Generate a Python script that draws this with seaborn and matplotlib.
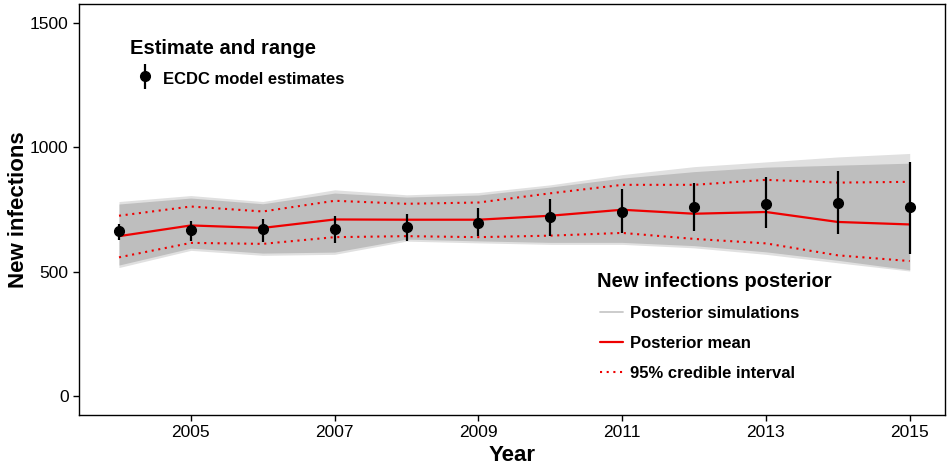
import numpy as np
import pandas as pd
import matplotlib
matplotlib.use("Agg")
import matplotlib.pyplot as plt
import seaborn as sns
from matplotlib.lines import Line2D
from matplotlib.legend_handler import HandlerErrorbar

# ---- data -------------------------------------------------------------
years = [2004, 2005, 2006, 2007, 2008, 2009, 2010, 2011, 2012, 2013, 2014, 2015]

# ECDC model estimates with their ranges
ecdc_est = [665, 669, 672, 673, 681, 695, 718, 740, 760, 774, 776, 760]
ecdc_low = [629, 623, 619, 617, 623, 643, 643, 657, 664, 676, 652, 570]
ecdc_high = [692, 705, 712, 724, 733, 758, 794, 831, 858, 879, 904, 939]

# posterior summary of new infections
post_mean = [643, 686, 676, 710, 709, 709, 725, 749, 733, 740, 700, 690]
ci_low = [558, 616, 612, 639, 643, 639, 645, 656, 632, 614, 566, 543]
ci_high = [725, 762, 742, 785, 773, 778, 815, 849, 849, 869, 858, 861]

# spread of the posterior simulations (outer envelope and dense core)
sim_outer_high = [782, 806, 782, 829, 809, 818, 849, 890, 922, 941, 961, 975]
sim_outer_low = [517, 586, 566, 570, 623, 616, 610, 610, 596, 570, 536, 503]
sim_core_high = [772, 796, 773, 816, 800, 808, 840, 876, 902, 920, 928, 936]
sim_core_low = [527, 595, 575, 579, 631, 624, 618, 618, 605, 580, 546, 508]

x_ticks = [2005, 2007, 2009, 2011, 2013, 2015]
y_ticks = [0, 500, 1000, 1500]

df = pd.DataFrame({"Year": years, "mean": post_mean, "lo": ci_low, "hi": ci_high})

# ---- style ------------------------------------------------------------
sns.set_theme(style="white")
plt.rcParams["font.family"] = ["Liberation Sans", "DejaVu Sans"]
plt.rcParams["text.color"] = "black"
plt.rcParams["axes.labelcolor"] = "black"

RED = "#ee0000"
DOTS = (0, (1, 2.2))

W, H = 949, 469
fig = plt.figure(figsize=(W / 100, H / 100), dpi=100)
ax = fig.add_axes([79 / W, (H - 415) / H, (945 - 79) / W, (415 - 4) / H])

# posterior simulations band
ax.fill_between(years, sim_outer_low, sim_outer_high, color="#e0e0e0", lw=0, zorder=1)
ax.fill_between(years, sim_core_low, sim_core_high, color="#bebebe", lw=0, zorder=2)

# posterior mean and 95% credible interval
sns.lineplot(data=df, x="Year", y="mean", color=RED, lw=1.6, ax=ax, zorder=3)
sns.lineplot(data=df, x="Year", y="lo", color=RED, lw=1.5, ls=DOTS, ax=ax, zorder=3)
sns.lineplot(data=df, x="Year", y="hi", color=RED, lw=1.5, ls=DOTS, ax=ax, zorder=3)

# ECDC estimates with range
est = np.array(ecdc_est)
yerr = np.vstack([est - np.array(ecdc_low), np.array(ecdc_high) - est])
eb = ax.errorbar(years, ecdc_est, yerr=yerr, fmt="o", color="black", ms=7,
                 elinewidth=1.6, capsize=0, zorder=4)

# ---- axes -------------------------------------------------------------
ax.set_xlim(2004 - 40 / 71.88, 2015 + 35.3 / 71.88)
ax.set_ylim(-75, 1575)
ax.set_xticks(x_ticks)
ax.set_yticks(y_ticks)
ax.tick_params(axis="both", which="both", direction="out", length=4.5, width=1,
               color="black", labelsize=12.5, labelcolor="black", pad=3,
               bottom=True, left=True)
for s in ax.spines.values():
    s.set_color("black")
    s.set_linewidth(1.0)
ax.set_xlabel("Year", fontsize=16, fontweight="bold", labelpad=3)
ax.set_ylabel("New infections", fontsize=16, fontweight="bold")
ax.yaxis.set_label_coords((29.5 - 79) / 866, 0.5)
ax.grid(False)

# ---- legends ----------------------------------------------------------
fig.text(130 / W, 1 - 54.5 / H, "Estimate and range", fontsize=14.5,
         fontweight="bold", ha="left", va="baseline", color="black")
leg1 = ax.legend([eb], ["ECDC model estimates"],
                 loc="center left", bbox_to_anchor=(126.7 / W, 1 - 78.7 / H),
                 bbox_transform=fig.transFigure, frameon=False, borderpad=0,
                 prop={"weight": "bold", "size": 12},
                 handlelength=1.2, handleheight=1.5, handletextpad=0.45,
                 handler_map={eb: HandlerErrorbar(yerr_size=0.75)})
ax.add_artist(leg1)

fig.text(597 / W, 1 - 287.3 / H, "New infections posterior", fontsize=14.5,
         fontweight="bold", ha="left", va="baseline", color="black")
h_sim = Line2D([], [], color="#c8c8c8", lw=1.3)
h_mean = Line2D([], [], color=RED, lw=1.6)
h_ci = Line2D([], [], color=RED, lw=1.5, ls=DOTS)
leg2 = ax.legend([h_sim, h_mean, h_ci],
                 ["Posterior simulations", "Posterior mean", "95% credible interval"],
                 loc="center left", bbox_to_anchor=(591.3 / W, 1 - 343.3 / H),
                 bbox_transform=fig.transFigure, frameon=False, borderpad=0,
                 prop={"weight": "bold", "size": 12},
                 handlelength=1.4, handletextpad=0.44, labelspacing=0.9)

fig.savefig("out.png", dpi=100, facecolor="white")
